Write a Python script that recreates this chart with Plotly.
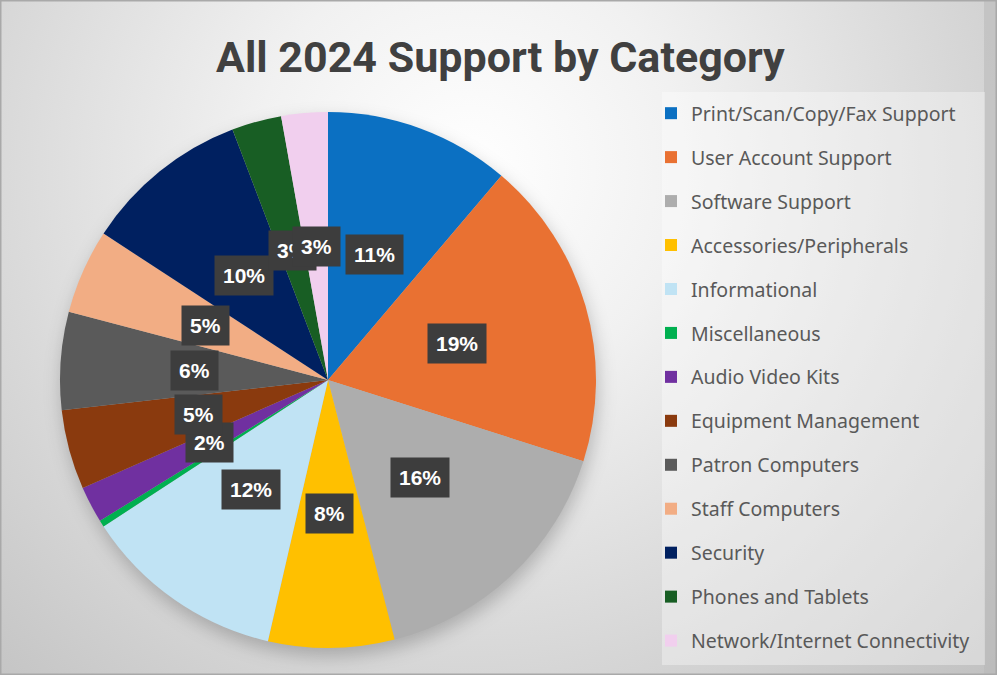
import base64
import math
import plotly.graph_objects as go

# Support requests by category, share of the year's total (%)
categories = [
    "Print/Scan/Copy/Fax Support",
    "User Account Support",
    "Software Support",
    "Accessories/Peripherals",
    "Informational",
    "Miscellaneous",
    "Audio Video Kits",
    "Equipment Management",
    "Patron Computers",
    "Staff Computers",
    "Security",
    "Phones and Tablets",
    "Network/Internet Connectivity",
]
shares = [11.2, 18.7, 16.1, 7.6, 12.2, 0.4, 2.2, 4.8, 5.9, 5.1, 10.0, 3.0, 2.8]
colors = [
    "#0b70c2", "#e97132", "#adadad", "#ffc000", "#c0e3f4", "#00b050", "#7030a0",
    "#8a3a0e", "#5a5a5a", "#f2ad84", "#002060", "#185e24", "#f1cfee",
]

W, H = 997, 675
CX, CY, R = 328, 380, 268  # pie centre and radius, px

# Soft radial backdrop with a faint shadow under the pie
bg_svg = f"""<svg xmlns="http://www.w3.org/2000/svg" width="{W}" height="{H}" viewBox="0 0 {W} {H}">
<defs>
<radialGradient id="g" cx="470" cy="170" r="720" gradientUnits="userSpaceOnUse">
<stop offset="0" stop-color="#ffffff"/>
<stop offset="0.3" stop-color="#f1f1f1"/>
<stop offset="1" stop-color="#c2c2c2"/>
</radialGradient>
<filter id="blur" x="-20%" y="-20%" width="140%" height="140%"><feGaussianBlur stdDeviation="9"/></filter>
</defs>
<rect width="{W}" height="{H}" fill="url(#g)"/>
<circle cx="{CX + 2}" cy="{CY + 8}" r="{R}" fill="#000" fill-opacity="0.22" filter="url(#blur)"/>
<rect x="984" y="0" width="13" height="{H}" fill="#b8b8b8" fill-opacity="0.55"/>
<rect x="0.75" y="0.75" width="{W - 1.5}" height="{H - 1.5}" fill="none" stroke="#a9a9a9" stroke-width="1.5"/>
</svg>"""
bg_uri = "data:image/svg+xml;base64," + base64.b64encode(bg_svg.encode()).decode()

fig = go.Figure()

fig.add_trace(go.Pie(
    labels=categories,
    values=shares,
    sort=False,
    direction="clockwise",
    rotation=0,
    marker=dict(colors=colors, line=dict(width=0)),
    textinfo="none",
    hoverinfo="label+percent",
    showlegend=False,
    domain=dict(x=[(CX - R) / W, (CX + R) / W], y=[1 - (CY + R) / H, 1 - (CY - R) / H]),
))

# Legend entries, one per category, spaced as separate groups
for name, col in zip(categories, colors):
    fig.add_trace(go.Scatter(
        x=[None], y=[None], mode="markers", name=name, legendgroup=name,
        marker=dict(symbol="square", size=12, color=col, line=dict(width=0)),
        hoverinfo="skip",
    ))

# Percentage labels at the middle of each slice, half way out
total = sum(shares)
label_r = 0.5 * R
acc = 0.0
annotations = []
for name, v in zip(categories, shares):
    mid = (acc + v / 2) / total * 2 * math.pi
    acc += v
    pct = round(v / total * 100)
    if pct < 1:
        continue
    px = CX + label_r * math.sin(mid)
    py = CY - label_r * math.cos(mid)
    annotations.append(dict(
        x=px / W, y=1 - py / H, xref="paper", yref="paper",
        text=f"<b>{pct}%</b>", showarrow=False,
        font=dict(family="Liberation Sans, Arial, sans-serif", size=21, color="#ffffff"),
        bgcolor="#3d3d3d", borderpad=8, xanchor="center", yanchor="middle",
    ))

annotations.append(dict(
    x=500 / W, y=1 - 57 / H, xref="paper", yref="paper",
    text="<b>All 2024 Support by Category</b>", showarrow=False,
    font=dict(family="Roboto, sans-serif", size=43, color="#404040"),
    xanchor="center", yanchor="middle",
))

fig.update_layout(
    width=W, height=H,
    margin=dict(l=0, r=0, t=0, b=0),
    paper_bgcolor="#e6e6e6",
    plot_bgcolor="rgba(0,0,0,0)",
    xaxis=dict(visible=False, domain=[0.99, 1.0]),
    yaxis=dict(visible=False, domain=[0.0, 0.01]),
    images=[dict(source=bg_uri, xref="paper", yref="paper", x=0, y=1,
                 sizex=1, sizey=1, xanchor="left", yanchor="top",
                 sizing="stretch", layer="below")],
    shapes=[dict(type="rect", xref="paper", yref="paper",
                 x0=662 / W, x1=985 / W, y0=1 - 665 / H, y1=1 - 92 / H,
                 fillcolor="rgba(255,255,255,0.35)", line=dict(width=0), layer="below")],
    legend=dict(
        x=651 / W, y=1 - 94 / H, xanchor="left", yanchor="top",
        bgcolor="rgba(0,0,0,0)", borderwidth=0,
        font=dict(family="Noto Sans, sans-serif", size=19.5, color="#595959"),
        tracegroupgap=15.6, traceorder="grouped",
    ),
    annotations=annotations,
)

fig.write_html("out.html")
